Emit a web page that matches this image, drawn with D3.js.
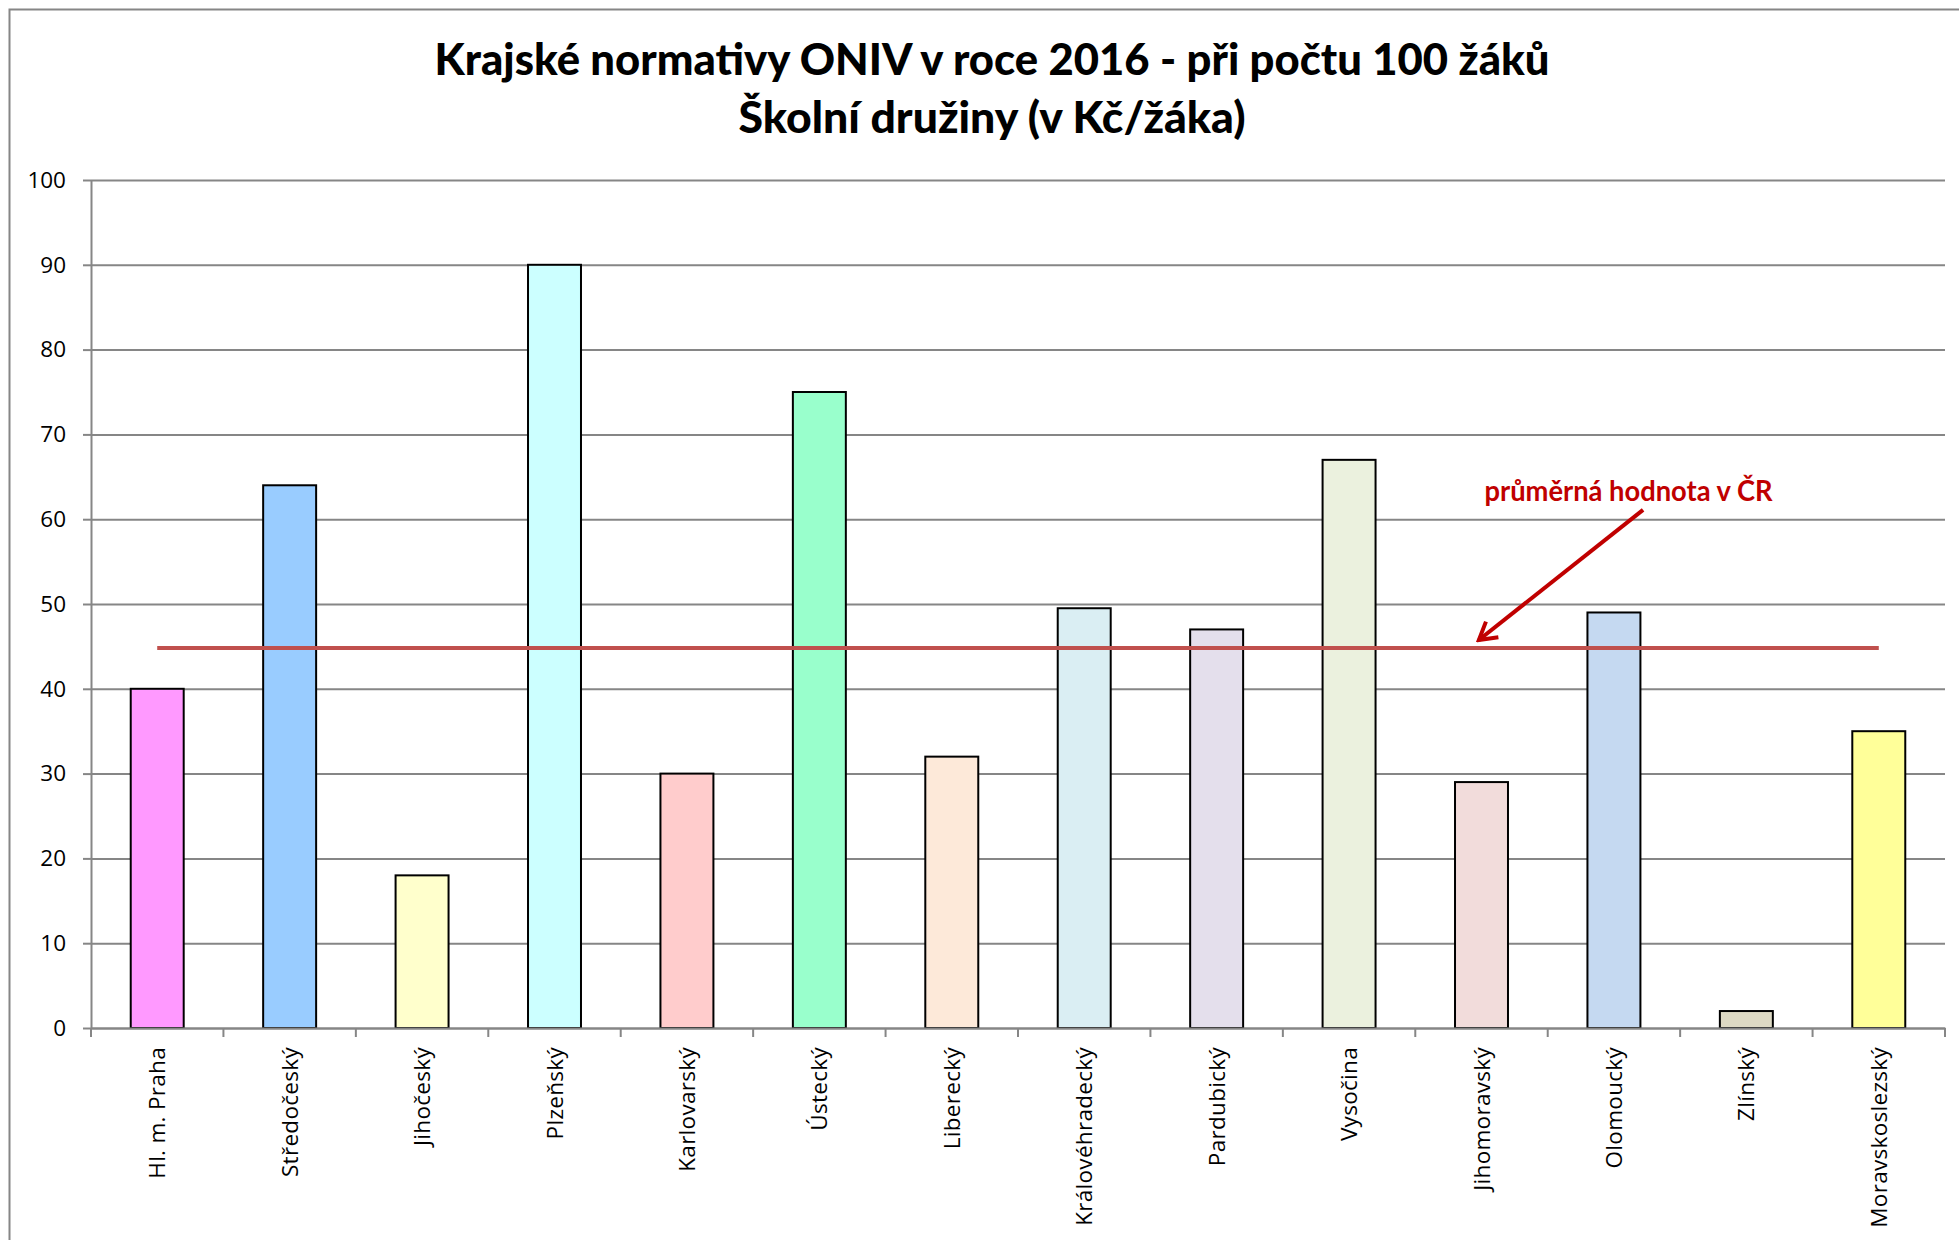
<!DOCTYPE html>
<html>
<head>
<meta charset="utf-8">
<script src="https://cdn.jsdelivr.net/npm/d3@7"></script>
<style>
  html, body { margin: 0; padding: 0; background: #fff; }
  svg { display: block; }
</style>
</head>
<body>
<svg id="chart" width="1959" height="1240"></svg>
<script>
// ---- data ----
const titleLines = ["Krajské normativy ONIV v roce 2016 - při počtu 100 žáků", "Školní družiny (v Kč/žáka)"];
const categories = ["Hl. m. Praha", "Středočeský", "Jihočeský", "Plzeňský", "Karlovarský", "Ústecký", "Liberecký", "Královéhradecký", "Pardubický", "Vysočina", "Jihomoravský", "Olomoucký", "Zlínský", "Moravskoslezský"];
const values = [40, 64, 18, 90, 30, 75, 32, 49.5, 47, 67, 29, 49, 2, 35];
const barColors = ["#FF99FF", "#99CCFF", "#FFFFCC", "#CCFFFF", "#FFCCCC", "#99FFCC", "#FDE9D9", "#DAEEF3", "#E4DFEC", "#EBF1DE", "#F2DCDB", "#C5D9F1", "#DDD9C4", "#FFFF99"];
const yTicks = [0, 10, 20, 30, 40, 50, 60, 70, 80, 90, 100];
const averageValue = 44.8;
const annotationText = "průměrná hodnota v ČR";
// annotation anchor points in (category-position, value) units
const annotationLabelPos = [11.61, 62.15];
const annotationArrowFrom = [11.72, 61.1];
const annotationArrowTo = [10.48, 45.75];

// ---- layout ----
const W = 1959, H = 1240;
const plot = { left: 91, right: 1945, top: 180, bottom: 1028 };
const gridColor = "#868686";
const axisFont = "'Open Sans', 'Noto Sans', sans-serif";
const titleFont = "Lato, 'Open Sans', sans-serif";

const svg = d3.select("#chart");

// outer chart border (right/bottom edges fall off canvas)
svg.append("rect")
  .attr("x", 9.5).attr("y", 9.5)
  .attr("width", W + 20).attr("height", H + 20)
  .attr("fill", "#fff").attr("stroke", gridColor).attr("stroke-width", 2);

const x = d3.scaleBand().domain(categories).range([plot.left, plot.right]).padding(0);
const xu = d3.scaleLinear().domain([0, categories.length]).range([plot.left, plot.right]);
const y = d3.scaleLinear().domain([0, 100]).range([plot.bottom, plot.top]);

// title
const title = svg.append("g");
const titleBaselines = [75, 133];
const titleWidths = [1115, 507];
titleLines.forEach((t, i) => {
  title.append("text")
    .attr("x", 992).attr("y", titleBaselines[i])
    .attr("text-anchor", "middle")
    .attr("font-family", titleFont).attr("font-weight", 900)
    .attr("font-size", 43)
    .attr("textLength", titleWidths[i]).attr("lengthAdjust", "spacingAndGlyphs")
    .attr("fill", "#000")
    .text(t);
});

// gridlines
svg.append("g")
  .attr("transform", `translate(${plot.left},0)`)
  .call(d3.axisLeft(y).tickValues(yTicks).tickSize(-(plot.right - plot.left)).tickFormat(""))
  .call(g => g.select(".domain").remove())
  .call(g => g.selectAll("line").attr("stroke", gridColor).attr("stroke-width", 2));

// y axis with labels
svg.append("g")
  .attr("transform", `translate(${plot.left},0)`)
  .call(d3.axisLeft(y).tickValues(yTicks).tickSize(8).tickPadding(17).tickSizeOuter(0))
  .call(g => g.select(".domain").attr("stroke", gridColor).attr("stroke-width", 2))
  .call(g => g.selectAll("line").attr("stroke", gridColor).attr("stroke-width", 2))
  .call(g => g.selectAll("text")
    .attr("font-family", axisFont).attr("font-size", 22.5).attr("fill", "#000"));

// bars
const bw = x.bandwidth() * 0.4;
svg.append("g").selectAll("rect")
  .data(categories)
  .join("rect")
  .attr("x", d => x(d) + (x.bandwidth() - bw) / 2)
  .attr("y", (d, i) => y(values[i]))
  .attr("width", bw)
  .attr("height", (d, i) => y(0) - y(values[i]))
  .attr("fill", (d, i) => barColors[i])
  .attr("stroke", "#000").attr("stroke-width", 2);

// x axis
const xAxis = svg.append("g").attr("transform", `translate(0,${plot.bottom})`);
xAxis.call(d3.axisBottom(x).tickSize(0).tickPadding(0))
  .call(g => g.select(".domain").attr("stroke", gridColor).attr("stroke-width", 2))
  .call(g => g.selectAll("text")
    .attr("font-family", axisFont).attr("font-size", 22.5).attr("fill", "#000")
    .attr("letter-spacing", 0.3)
    .attr("text-anchor", "end")
    .attr("transform", "rotate(-90)")
    .attr("x", -19).attr("y", 0).attr("dy", "0.36em"));
// boundary ticks
xAxis.append("g").selectAll("line")
  .data(d3.range(categories.length + 1))
  .join("line")
  .attr("x1", d => xu(d)).attr("x2", d => xu(d))
  .attr("y1", 0).attr("y2", 9)
  .attr("stroke", gridColor).attr("stroke-width", 2);

// average line
svg.append("line")
  .attr("x1", x(categories[0]) + x.bandwidth() / 2)
  .attr("x2", x(categories[categories.length - 1]) + x.bandwidth() / 2)
  .attr("y1", y(averageValue)).attr("y2", y(averageValue))
  .attr("stroke", "#C0504D").attr("stroke-width", 4);

// annotation arrow
const defs = svg.append("defs");
defs.append("marker")
  .attr("id", "arrow")
  .attr("viewBox", "0 0 24 24")
  .attr("refX", 21).attr("refY", 12)
  .attr("markerWidth", 24).attr("markerHeight", 24)
  .attr("markerUnits", "userSpaceOnUse")
  .attr("orient", "auto")
  .append("path")
  .attr("d", "M4,2 L21,12 L4,22")
  .attr("fill", "none").attr("stroke", "#C00000").attr("stroke-width", 4)
  .attr("stroke-linejoin", "miter");

svg.append("line")
  .attr("x1", xu(annotationArrowFrom[0])).attr("y1", y(annotationArrowFrom[1]))
  .attr("x2", xu(annotationArrowTo[0])).attr("y2", y(annotationArrowTo[1]))
  .attr("stroke", "#C00000").attr("stroke-width", 4)
  .attr("marker-end", "url(#arrow)");

svg.append("text")
  .attr("x", xu(annotationLabelPos[0])).attr("y", y(annotationLabelPos[1]))
  .attr("text-anchor", "middle")
  .attr("font-family", titleFont).attr("font-weight", 700)
  .attr("font-size", 29)
  .attr("textLength", 288).attr("lengthAdjust", "spacingAndGlyphs")
  .attr("fill", "#C00000")
  .text(annotationText);
</script>
</body>
</html>
